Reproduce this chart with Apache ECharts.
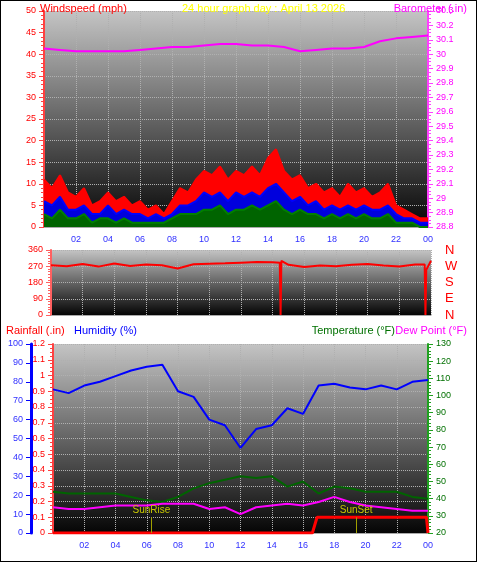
<!DOCTYPE html>
<html>
<head>
<meta charset="utf-8">
<script src="https://cdn.jsdelivr.net/npm/echarts@6/dist/echarts.min.js"></script>
<style>
html,body{margin:0;padding:0;background:#fff}
#main{width:475px;height:560px;border:1px solid #000}
</style>
</head>
<body>
<div id="main"></div>
<script>
// half-hour steps 0..24
let halfHours = [];
for (let i = 0; i <= 48; i++) halfHours.push(i / 2);
let windGust = [11,9,12,8,7,9,5,6,8,6,7,5,6,4,5,3,6,9,8,11,13,12,14,11,13,12,14,12,16,18,13,11,12,9,10,8,9,7,10,8,9,7,8,10,5,4,3,2,2];
let windAvg = [6,5,7,4,4,5,3,3,5,3,4,3,3,2,3,2,3,5,5,6,8,7,8,6,8,7,8,7,9,10,8,6,7,5,6,4,5,4,5,4,5,4,4,5,3,2,2,1,1];
let windLow = [3,2,4,2,2,3,1,2,2,1,2,1,1,1,1,1,2,3,3,3,4,4,5,3,4,4,5,4,5,6,4,3,4,3,3,2,3,2,3,2,3,2,2,3,1,1,1,0,0];
let hours = [0,1,2,3,4,5,6,7,8,9,10,11,12,13,14,15,16,17,18,19,20,21,22,23,24];
let baro = [30.04,30.03,30.02,30.02,30.02,30.02,30.03,30.04,30.05,30.05,30.06,30.07,30.07,30.06,30.06,30.05,30.02,30.03,30.04,30.04,30.05,30.09,30.11,30.12,30.13];
let windDir = [275,270,282,268,285,272,280,276,258,281,284,286,290,294,292,278,266,274,270,278,282,274,268,280,300];
let dirSpikes = [[14.45,290],[14.5,0],[14.55,300],[23.6,280],[23.65,0],[23.7,250],[24,300]];
let humidity = [76,74,78,80,83,86,88,89,75,72,60,57,45,55,57,66,63,78,79,77,76,78,76,80,81];
let tempF = [44,43,43,43,43,41,39,38,41,46,49,51,53,52,53,47,50,43,47,46,44,44,44,41,40];
let dewF = [35,34,34,35,36,36,36,37,37,37,34,35,31,35,36,37,36,38,41,38,36,35,34,33,33];
let rainTimes = [0,16.6,16.9,23.9,24];
let rainVals = [0,0,0.1,0.1,0];
let sunRise = 6.3, sunSet = 19.4;

let pair = (xs, ys) => xs.map((x, i) => [x, ys[i]]);
let bg = {type:'linear',x:0,y:0,x2:0,y2:1,colorStops:[{offset:0,color:'#c4c4c4'},{offset:1,color:'#050505'}]};
let hourFmt = v => (v === 0 ? '' : String(v % 24).padStart(2, '0'));
let gridLine = {show:true,lineStyle:{color:'#b0b0b0',type:'dotted'}};
let xBase = {type:'value',min:0,max:24,interval:2,splitLine:gridLine,axisTick:{show:false},axisLine:{lineStyle:{color:'#aaa'}}};
let ttl = (text, pos, top, color) => Object.assign({text, top, zlevel:1, z:20, textStyle:{color, fontSize:11, fontWeight:'normal'}}, pos);

let chart = echarts.init(document.getElementById('main'));
chart.setOption({
  animation:false,
  textStyle:{fontFamily:'Liberation Sans'},
  title:[
    ttl('Windspeed (mph)', {left:34}, -3, '#ff0000'),
    ttl('24 hour graph day : April 13 2026', {left:176}, -3, '#ffff00'),
    ttl('Barometer (.in)', {right:4}, -3, '#ff00ff'),
    ttl('Rainfall (.in)', {left:0}, 319, '#ff0000'),
    ttl('Humidity (%)', {left:68}, 319, '#0000ff'),
    ttl('Temperature (°F)', {right:76}, 319, '#007000'),
    ttl('Dew Point (°F)', {right:4}, 319, '#ff00ff')
  ],
  grid:[
    {left:43,right:48,top:10,height:216,show:true,backgroundColor:bg,borderWidth:0},
    {left:50,right:45,top:249,height:65,show:true,backgroundColor:bg,borderWidth:0},
    {left:52,right:48,top:343,height:189,show:true,backgroundColor:bg,borderWidth:0}
  ],
  xAxis:[
    Object.assign({gridIndex:0,axisLabel:{formatter:hourFmt,color:'#3030ff',fontSize:9}}, xBase),
    Object.assign({gridIndex:1,axisLabel:{show:false}}, xBase),
    Object.assign({gridIndex:2,axisLabel:{formatter:hourFmt,color:'#3030ff',fontSize:9}}, xBase)
  ],
  yAxis:[
    {gridIndex:0,min:0,max:50,interval:5,splitLine:gridLine,axisLine:{show:true,lineStyle:{color:'#ff4040',width:2}},axisTick:{show:true},minorTick:{show:true,splitNumber:5},axisLabel:{color:'#ff0000',fontSize:9}},
    {gridIndex:0,position:'right',min:28.8,max:30.3,interval:0.1,splitLine:{show:false},axisLine:{show:true,lineStyle:{color:'#ff40ff',width:2}},axisTick:{show:true},minorTick:{show:true,splitNumber:4},axisLabel:{color:'#ff00ff',fontSize:9,formatter:v=>+v.toFixed(1)}},
    {gridIndex:1,min:0,max:360,interval:90,splitLine:gridLine,axisLine:{show:true,lineStyle:{color:'#ff6060',width:2}},minorTick:{show:true,splitNumber:6},axisLabel:{color:'#ff0000',fontSize:9}},
    {gridIndex:1,position:'right',min:0,max:360,interval:90,splitLine:{show:false},axisLine:{show:false},axisTick:{show:false},axisLabel:{color:'#ff0000',fontSize:13,margin:14,formatter:v=>({0:'N',90:'E',180:'S',270:'W',360:'N'})[v]}},
    {gridIndex:2,min:0,max:1.2,interval:0.1,splitLine:gridLine,axisLine:{show:true,lineStyle:{color:'#ff4040',width:2}},minorTick:{show:true,splitNumber:4},axisLabel:{color:'#ff0000',fontSize:9,formatter:v=>+v.toFixed(1)}},
    {gridIndex:2,position:'left',offset:22,min:0,max:100,interval:10,splitLine:{show:false},axisLine:{show:true,lineStyle:{color:'#0000ff',width:3}},axisTick:{show:true,lineStyle:{color:'#0000ff'}},axisLabel:{color:'#3030ff',fontSize:9}},
    {gridIndex:2,position:'right',min:20,max:130,interval:10,splitLine:{show:false},axisLine:{show:true,lineStyle:{color:'#20a020',width:2}},minorTick:{show:true,splitNumber:5},axisLabel:{color:'#007000',fontSize:9}}
  ],
  series:[
    {type:'line',xAxisIndex:0,yAxisIndex:0,data:pair(halfHours,windGust),symbol:'none',lineStyle:{color:'#ff0000',width:2},areaStyle:{color:'#ff0000',opacity:1}},
    {type:'line',xAxisIndex:0,yAxisIndex:0,data:pair(halfHours,windAvg),symbol:'none',lineStyle:{color:'#0000ff',width:2},areaStyle:{color:'#0000dd',opacity:1}},
    {type:'line',xAxisIndex:0,yAxisIndex:0,data:pair(halfHours,windLow),symbol:'none',lineStyle:{color:'#008000',width:2},areaStyle:{color:'#006400',opacity:1}},
    {type:'line',xAxisIndex:0,yAxisIndex:1,data:pair(hours,baro),symbol:'none',lineStyle:{color:'#ff00ff',width:2}},
    {type:'line',xAxisIndex:1,yAxisIndex:2,data:pair(hours,windDir).filter(p=>p[0]<23.6).concat(dirSpikes).sort((a,b)=>a[0]-b[0]),symbol:'none',lineStyle:{color:'#ff0000',width:2}},
    {type:'line',xAxisIndex:2,yAxisIndex:5,data:pair(hours,humidity),symbol:'none',lineStyle:{color:'#0000ff',width:2}},
    {type:'line',xAxisIndex:2,yAxisIndex:6,data:pair(hours,tempF),symbol:'none',lineStyle:{color:'#006400',width:2}},
    {type:'line',xAxisIndex:2,yAxisIndex:6,data:pair(hours,dewF),symbol:'none',lineStyle:{color:'#ff00ff',width:2}},
    {type:'line',xAxisIndex:2,yAxisIndex:4,data:pair(rainTimes,rainVals),symbol:'none',lineStyle:{color:'#ff0000',width:3},
      markLine:{symbol:'none',silent:true,lineStyle:{color:'#a0a000',type:'solid',width:1},
        label:{show:true,position:'end',color:'#c8c800',fontSize:10,distance:2},
        data:[
          [{coord:[sunRise,0]},{coord:[sunRise,0.1],name:'SunRise'}],
          [{coord:[sunSet,0]},{coord:[sunSet,0.1],name:'SunSet'}]
        ].map(d=>{d[0].label={formatter:d[1].name};return d;})}}
  ]
});
</script>
</body>
</html>
